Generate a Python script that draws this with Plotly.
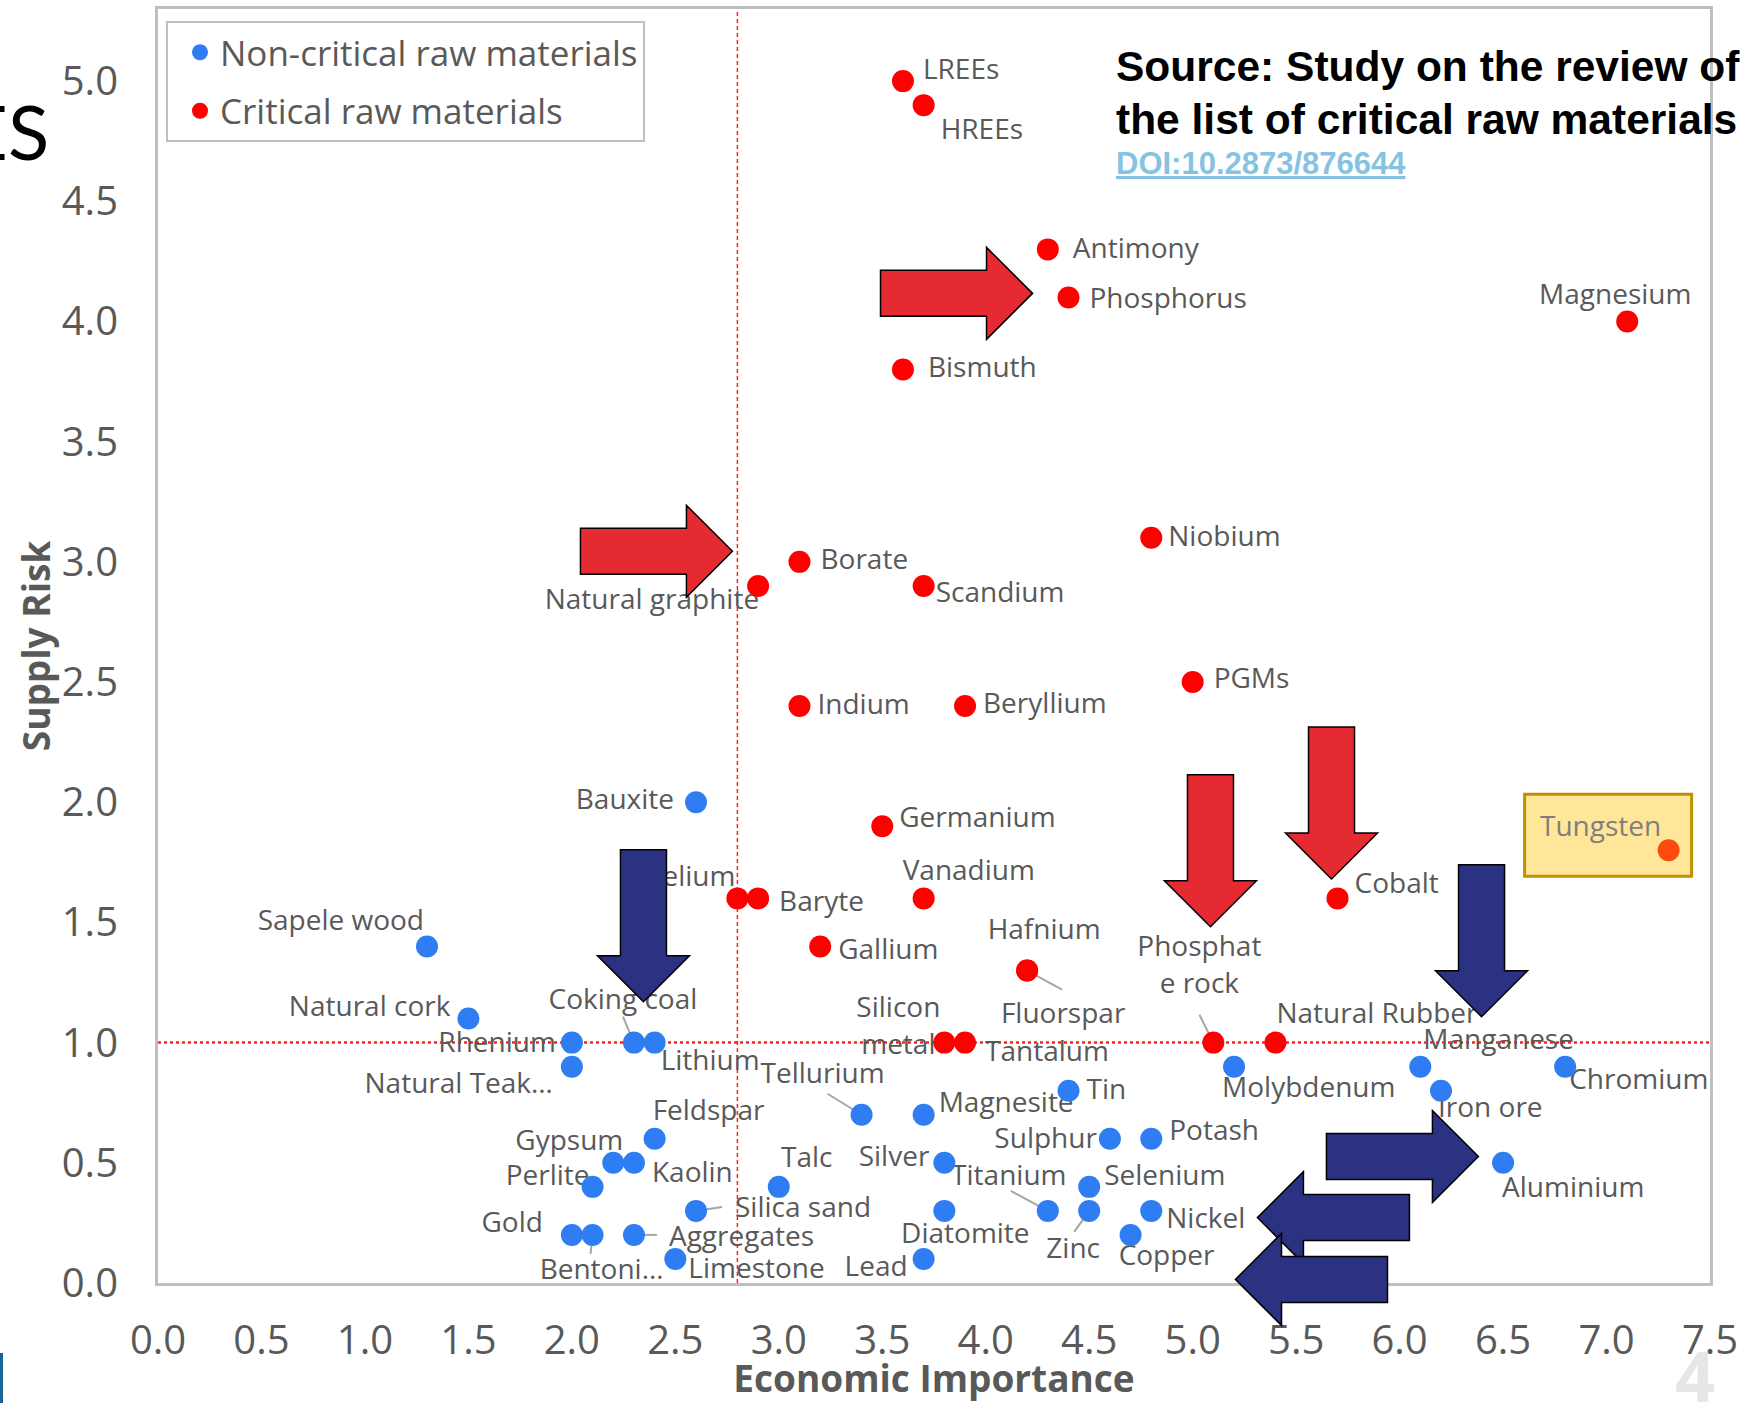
import plotly.graph_objects as go

# ---------------- data ----------------
critical_names = ["LREEs", "HREEs", "Antimony", "Phosphorus", "Magnesium", "Bismuth",
                  "Borate", "Natural graphite", "Scandium", "Niobium", "PGMs", "Indium",
                  "Beryllium", "Germanium", "Vanadium", "Baryte", "Helium", "Gallium",
                  "Hafnium", "Fluorspar", "Silicon metal", "Tantalum", "Phosphate rock",
                  "Natural Rubber", "Cobalt", "Tungsten"]
critical_ei = [3.6, 3.7, 4.3, 4.4, 7.1, 3.6,
               3.1, 2.9, 3.7, 4.8, 5.0, 3.1,
               3.9, 3.5, 3.7, 2.9, 2.8, 3.2,
               4.2, 4.2, 3.8, 3.9, 5.1,
               5.4, 5.7, 7.3]
critical_sr = [5.0, 4.9, 4.3, 4.1, 4.0, 3.8,
               3.0, 2.9, 2.9, 3.1, 2.5, 2.4,
               2.4, 1.9, 1.6, 1.6, 1.6, 1.4,
               1.3, 1.3, 1.0, 1.0, 1.0,
               1.0, 1.6, 1.8]

noncritical_names = ["Bauxite", "Sapele wood", "Natural cork", "Rhenium", "Natural Teak wood",
                     "Coking coal", "Lithium", "Feldspar", "Gypsum", "Kaolin", "Perlite",
                     "Silica sand", "Gold", "Bentonite", "Aggregates", "Limestone", "Talc",
                     "Tellurium", "Magnesite", "Silver", "Diatomite", "Lead", "Titanium",
                     "Tin", "Selenium", "Zinc", "Sulphur", "Potash", "Nickel", "Copper",
                     "Molybdenum", "Manganese", "Iron ore", "Chromium", "Aluminium"]
noncritical_ei = [2.6, 1.3, 1.5, 2.0, 2.0,
                  2.3, 2.4, 2.4, 2.2, 2.3, 2.1,
                  2.6, 2.0, 2.1, 2.3, 2.5, 3.0,
                  3.4, 3.7, 3.8, 3.8, 3.7, 4.3,
                  4.4, 4.5, 4.5, 4.6, 4.8, 4.8, 4.7,
                  5.2, 6.1, 6.2, 6.8, 6.5]
noncritical_sr = [2.0, 1.4, 1.1, 1.0, 0.9,
                  1.0, 1.0, 0.6, 0.5, 0.5, 0.4,
                  0.3, 0.2, 0.2, 0.2, 0.1, 0.4,
                  0.7, 0.7, 0.5, 0.3, 0.1, 0.3,
                  0.8, 0.4, 0.3, 0.6, 0.6, 0.3, 0.2,
                  0.9, 0.9, 0.8, 0.9, 0.5]

highlighted = ["Tungsten"]
ei_threshold = 2.8
sr_threshold = 1.0
x_ticks = [0.0, 0.5, 1.0, 1.5, 2.0, 2.5, 3.0, 3.5, 4.0, 4.5, 5.0, 5.5, 6.0, 6.5, 7.0, 7.5]
y_ticks = [0.0, 0.5, 1.0, 1.5, 2.0, 2.5, 3.0, 3.5, 4.0, 4.5, 5.0]

# ---------------- layout constants ----------------
W, H = 1751, 1403
ML, MR, MT, MB = 158, 41, 9, 120
PW, PH = W - ML - MR, H - MT - MB
XR = (0.0, 7.5)
YR = (0.0, 5.3)
FONT = "Open Sans"
GRAY = "#595959"
BLUE = "#2E7DF2"
RED = "#FF0000"
HIGHLIGHT = "#FF4A0D"
ARROW_RED = "#E52B31"
ARROW_NAVY = "#2B3282"

def dxd(px):
    return px * (XR[1] - XR[0]) / PW

def dyd(px):
    return px * (YR[1] - YR[0]) / PH

# label placement: anchor (l/r/c), dx, dy (px, text centre, y down), optional leader end (px)
LABEL = {
    "LREEs": ("l", 20, -9, None), "HREEs": ("l", 17, 27, None),
    "Antimony": ("l", 25, 2, None), "Phosphorus": ("l", 21, 4, None),
    "Magnesium": ("c", -12, -24, None), "Bismuth": ("l", 25, 0, None),
    "Borate": ("l", 21, 0, None), "Natural graphite": ("r", 1, 16, None),
    "Scandium": ("l", 12, 9, None), "Niobium": ("l", 17, 1, None),
    "PGMs": ("l", 21, -1, None), "Indium": ("l", 18, 1, None),
    "Beryllium": ("l", 18, 0, None), "Germanium": ("l", 17, -6, None),
    "Vanadium": ("l", -21, -25, None), "Baryte": ("l", 21, 6, None),
    "Helium": ("r", -2, -19, None), "Gallium": ("l", 18, 6, None),
    "Hafnium": ("c", 17, -39, None), "Fluorspar": ("c", 36, 45, (35, 19)),
    "Silicon metal": ("c", -46, -14, None), "Tantalum": ("l", 20, 11, None),
    "Phosphate rock": ("c", -14, -75, (-14, -28)), "Natural Rubber": ("l", 1, -27, None),
    "Cobalt": ("l", 17, -12, None), "Tungsten": ("c", -68, -21, None),
    "Bauxite": ("r", -22, 0, None), "Sapele wood": ("r", -3, -23, None),
    "Natural cork": ("r", -18, -10, None), "Rhenium": ("r", -16, 2, None),
    "Natural Teak wood": ("r", -19, 19, None), "Coking coal": ("c", -11, -41, (-11, -26)),
    "Lithium": ("l", 6, 20, None), "Feldspar": ("l", -2, -26, None),
    "Gypsum": ("r", 10, -20, None), "Kaolin": ("l", 18, 12, None),
    "Perlite": ("r", -3, -9, None), "Silica sand": ("l", 39, -1, (26, -4)),
    "Gold": ("r", -29, -10, None), "Bentonite": ("c", 9, 37, (-2, 19)),
    "Aggregates": ("l", 35, 4, (23, 0)), "Limestone": ("l", 13, 12, None),
    "Talc": ("c", 28, -27, None), "Tellurium": ("c", -39, -39, (-34, -21)),
    "Magnesite": ("l", 15, -10, None), "Silver": ("r", -15, -4, None),
    "Diatomite": ("c", 21, 25, None), "Lead": ("r", -16, 10, None),
    "Titanium": ("c", -39, -33, (-37, -20)), "Tin": ("l", 18, 1, None),
    "Selenium": ("l", 15, -9, None), "Zinc": ("c", -16, 40, (-15, 21)),
    "Sulphur": ("r", -13, 2, None), "Potash": ("l", 18, -6, None),
    "Nickel": ("l", 15, 10, None), "Copper": ("c", 36, 23, None),
    "Molybdenum": ("l", -12, 23, None), "Manganese": ("l", 3, -25, None),
    "Iron ore": ("l", -3, 19, None), "Chromium": ("l", 4, 15, None),
    "Aluminium": ("l", -1, 27, None),
}
LABEL_TEXT = {"Natural Teak wood": "Natural Teak…", "Bentonite": "Bentoni…",
              "Phosphate rock": "Phosphat<br>e rock", "Silicon metal": "Silicon<br>metal"}
TEXTPOS = {"l": "middle right", "r": "middle left", "c": "middle center"}

# arrow call-outs: tip (data coords), direction, colour
ARROWS = [(4.226, 4.117, "right", ARROW_RED), (2.776, 3.044, "right", ARROW_RED),
          (2.346, 1.170, "down", ARROW_NAVY), (5.086, 1.482, "down", ARROW_RED),
          (5.671, 1.681, "down", ARROW_RED), (6.396, 1.108, "down", ARROW_NAVY),
          (6.381, 0.526, "right", ARROW_NAVY), (5.313, 0.272, "left", ARROW_NAVY),
          (5.207, 0.015, "left", ARROW_NAVY)]

def arrow_path(tx, ty, direction):
    L, HL, SW, HW = 152, 46, 46, 92
    local = [(0, 0), (-HL, HW / 2), (-HL, SW / 2), (-L, SW / 2),
             (-L, -SW / 2), (-HL, -SW / 2), (-HL, -HW / 2)]
    d = {"right": (1, 0), "left": (-1, 0), "down": (0, 1), "up": (0, -1)}[direction]
    n = (-d[1], d[0])
    px0 = (tx - XR[0]) / (XR[1] - XR[0])
    py0 = (ty - YR[0]) / (YR[1] - YR[0])
    pts = []
    for a, c in local:
        sx = a * d[0] + c * n[0]
        sy = a * d[1] + c * n[1]
        pts.append((px0 + sx / PW, py0 - sy / PH))
    return "M " + " L ".join(f"{x:.5f},{y:.5f}" for x, y in pts) + " Z"

fig = go.Figure()

# ---- labels (text trace, under markers and arrows) ----
all_names = critical_names + noncritical_names
all_x = critical_ei + noncritical_ei
all_y = critical_sr + noncritical_sr
lx, ly, lt, lp, lc = [], [], [], [], []
shapes = []
for n, x, y in zip(all_names, all_x, all_y):
    anc, dx, dy, lead = LABEL[n]
    lx.append(x + dxd(dx))
    ly.append(y - dyd(dy))
    lt.append(LABEL_TEXT.get(n, n))
    lp.append(TEXTPOS[anc])
    lc.append("#7F7F7F" if n in highlighted else GRAY)
    if lead is not None:
        shapes.append(dict(type="line", xref="x", yref="y", x0=x, y0=y,
                           x1=x + dxd(lead[0]), y1=y - dyd(lead[1]),
                           line=dict(color="#A6A6A6", width=2), layer="below"))

# highlight box around Tungsten
for n, x, y in zip(critical_names, critical_ei, critical_sr):
    if n in highlighted:
        shapes.append(dict(type="rect", xref="x", yref="y",
                           x0=x + dxd(-144), x1=x + dxd(23),
                           y0=y - dyd(26), y1=y - dyd(-56),
                           fillcolor="#FFE699", line=dict(color="#BF9000", width=3),
                           layer="below"))

# threshold lines
shapes.append(dict(type="line", xref="x", yref="y", x0=XR[0], x1=XR[1],
                   y0=sr_threshold, y1=sr_threshold,
                   line=dict(color="#FF2020", width=2.5, dash="dot"), layer="below"))
shapes.append(dict(type="line", xref="x", yref="y", x0=ei_threshold, x1=ei_threshold,
                   y0=YR[0], y1=YR[1],
                   line=dict(color="#FF2020", width=1.5, dash="4px,3px"), layer="below"))

for tx, ty, dr, col in ARROWS:
    shapes.append(dict(type="path", xref="paper", yref="paper", path=arrow_path(tx, ty, dr),
                       fillcolor=col, line=dict(color="#000000", width=1.5), layer="above"))

# small blue bar at bottom-left edge (slide decoration)
shapes.append(dict(type="rect", xref="paper", yref="paper",
                   x0=(0 - ML) / PW, x1=(3 - ML) / PW,
                   y0=(MT + PH - H) / PH, y1=(MT + PH - 1353) / PH,
                   fillcolor="#1A6496", line=dict(width=0), layer="above"))

fig.add_trace(go.Scatter(x=lx, y=ly, mode="text", text=lt, textposition=lp,
                         textfont=dict(family=FONT, size=28, color=lc),
                         showlegend=False, hoverinfo="skip", cliponaxis=False))

# ---- markers ----
fig.add_trace(go.Scatter(x=noncritical_ei, y=noncritical_sr, mode="markers",
                         name="Non-critical raw materials", text=noncritical_names,
                         marker=dict(color=BLUE, size=22), legendgroup="a",
                         cliponaxis=False))
crit_colors = [HIGHLIGHT if n in highlighted else RED for n in critical_names]
fig.add_trace(go.Scatter(x=critical_ei, y=critical_sr, mode="markers",
                         name="Critical raw materials", text=critical_names,
                         marker=dict(color=crit_colors, size=22), legendgroup="b",
                         cliponaxis=False))

annotations = [
    dict(text="<b>Source: Study on the review of</b>", xref="paper", yref="paper",
         x=(1114 - ML) / PW, y=(MT + PH - 67) / PH, xanchor="left", yanchor="middle",
         showarrow=False, font=dict(family="Liberation Sans", size=42.5, color="#000000")),
    dict(text="<b>the list of critical raw materials</b>", xref="paper", yref="paper",
         x=(1114 - ML) / PW, y=(MT + PH - 119) / PH, xanchor="left", yanchor="middle",
         showarrow=False, font=dict(family="Liberation Sans", size=42.5, color="#000000")),
    dict(text="<b><u>DOI:10.2873/876644</u></b>", xref="paper", yref="paper",
         x=(1114 - ML) / PW, y=(MT + PH - 163) / PH, xanchor="left", yanchor="middle",
         showarrow=False, font=dict(family="Liberation Sans", size=31, color="#86C3E2")),
    dict(text="ES", xref="paper", yref="paper",
         x=(51 - ML) / PW, y=(MT + PH - 131) / PH, xanchor="right", yanchor="middle",
         showarrow=False, font=dict(family="Lato", size=76, color="#000000")),
    dict(text="<b>4</b>", xref="paper", yref="paper",
         x=(1695 - ML) / PW, y=(MT + PH - 1375) / PH, xanchor="center", yanchor="middle",
         showarrow=False, font=dict(family=FONT, size=70, color="#E6E6E6")),
]

fig.update_layout(
    width=W, height=H,
    margin=dict(l=ML, r=MR, t=MT, b=MB, autoexpand=False),
    paper_bgcolor="#FFFFFF", plot_bgcolor="rgba(0,0,0,0)",
    font=dict(family=FONT, color=GRAY),
    shapes=shapes, annotations=annotations,
    hovermode="closest",
    legend=dict(x=(166 - ML) / PW, y=(MT + PH - 21) / PH, xanchor="left", yanchor="top",
                bgcolor="#FFFFFF", bordercolor="#BFBFBF", borderwidth=2,
                font=dict(family=FONT, size=35, color=GRAY),
                tracegroupgap=10, indentation=12, itemsizing="trace"),
    xaxis=dict(range=list(XR), tickvals=x_ticks, ticktext=[f"{v:.1f}" for v in x_ticks],
               showgrid=False, zeroline=False, showline=True, mirror=True,
               linecolor="#BFBFBF", linewidth=3, ticks="", ticklabelstandoff=20,
               tickfont=dict(family=FONT, size=40, color=GRAY), automargin=False,
               title=dict(text="Economic Importance", standoff=27,
                          font=dict(family=FONT, size=37, color=GRAY, weight="bold"))),
    yaxis=dict(range=list(YR), tickvals=y_ticks, ticktext=[f"{v:.1f}" for v in y_ticks],
               showgrid=False, zeroline=False, showline=True, mirror=True,
               linecolor="#BFBFBF", linewidth=3, ticks="", ticklabelstandoff=29,
               tickfont=dict(family=FONT, size=40, color=GRAY), automargin=False,
               title=dict(text="Supply Risk", standoff=0,
                          font=dict(family=FONT, size=37, color=GRAY, weight="bold"))),
)

fig.write_html("out.html", config={"displayModeBar": False},
               post_script="document.body.style.margin='0px';")
